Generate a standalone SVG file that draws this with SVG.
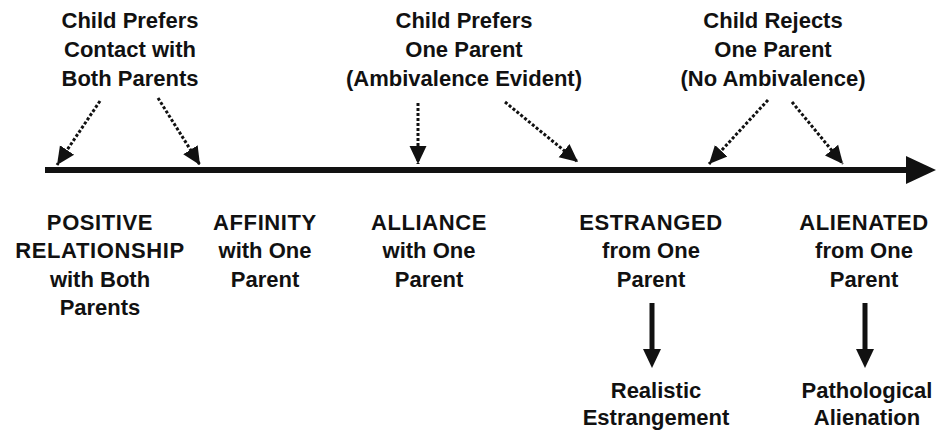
<svg xmlns="http://www.w3.org/2000/svg" width="941" height="432" viewBox="0 0 941 432">
<style>
text{font-family:"Liberation Sans",Arial,sans-serif;font-size:22px;font-weight:bold;fill:#111;text-anchor:middle}
.caps{letter-spacing:0.6px}
.dot{stroke:#111;stroke-width:3;stroke-dasharray:3 2;fill:none}
.solid{stroke:#111;stroke-width:5;fill:none}
</style>
<defs>
<marker id="ah" markerUnits="userSpaceOnUse" markerWidth="20" markerHeight="20" viewBox="0 0 20 20" refX="18" refY="10" orient="auto">
<path d="M0,1.5 L18,10 L0,18.5 Z" fill="#111"/>
</marker>
</defs>
<rect width="941" height="432" fill="#fff"/>
<g id="connectors">
<line x1="45" y1="170" x2="912" y2="170" stroke="#111" stroke-width="6"/>
<polygon points="906,156 936,170 906,184" fill="#111"/>
<line class="dot" x1="100" y1="101" x2="57" y2="165" marker-end="url(#ah)"/>
<line class="dot" x1="158" y1="98" x2="200" y2="165" marker-end="url(#ah)"/>
<line class="dot" x1="418" y1="103" x2="418" y2="164" marker-end="url(#ah)"/>
<line class="dot" x1="505" y1="102" x2="578" y2="162" marker-end="url(#ah)"/>
<line class="dot" x1="768" y1="100" x2="709" y2="164" marker-end="url(#ah)"/>
<line class="dot" x1="792" y1="102" x2="843" y2="164" marker-end="url(#ah)"/>
<line class="solid" x1="652" y1="303" x2="652" y2="352"/>
<polygon points="643,349 661,349 652,368" fill="#111"/>
<line class="solid" x1="865" y1="303" x2="865" y2="352"/>
<polygon points="856,349 874,349 865,368" fill="#111"/>
</g>
<g id="top1"><text x="130" y="28">Child Prefers</text><text x="130" y="57">Contact with</text><text x="130" y="86">Both Parents</text></g>
<g id="top2"><text x="464" y="28">Child Prefers</text><text x="464" y="57">One Parent</text><text x="464" y="86">(Ambivalence Evident)</text></g>
<g id="top3"><text x="773" y="28">Child Rejects</text><text x="773" y="57">One Parent</text><text x="773" y="86">(No Ambivalence)</text></g>
<g id="positive"><text class="caps" x="100" y="230">POSITIVE</text><text class="caps" x="100" y="258">RELATIONSHIP</text><text x="100" y="287">with Both</text><text x="100" y="315">Parents</text></g>
<g id="affinity"><text class="caps" x="265" y="230">AFFINITY</text><text x="265" y="258">with One</text><text x="265" y="287">Parent</text></g>
<g id="alliance"><text class="caps" x="429" y="230">ALLIANCE</text><text x="429" y="258">with One</text><text x="429" y="287">Parent</text></g>
<g id="estranged"><text class="caps" x="651" y="230">ESTRANGED</text><text x="651" y="258">from One</text><text x="651" y="287">Parent</text></g>
<g id="alienated"><text class="caps" x="864" y="230">ALIENATED</text><text x="864" y="258">from One</text><text x="864" y="287">Parent</text></g>
<g id="realistic"><text x="656" y="398">Realistic</text><text x="656" y="425">Estrangement</text></g>
<g id="pathological"><text x="867" y="398">Pathological</text><text x="867" y="425">Alienation</text></g>
</svg>
